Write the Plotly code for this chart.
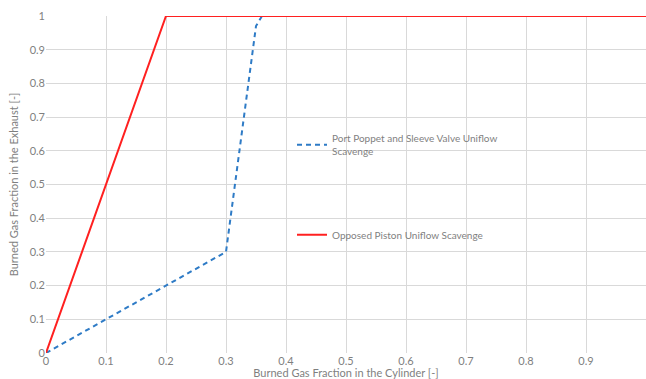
import plotly.graph_objects as go

# Data
port_x = [0, 0.1, 0.2, 0.3, 0.35, 0.36, 1.0]
port_y = [0, 0.1, 0.2, 0.3, 0.97, 1.0, 1.0]
opp_x = [0, 0.2, 1.0]
opp_y = [0, 1.0, 1.0]
port_name = "Port Poppet and Sleeve Valve Uniflow<br>Scavenge"
opp_name = "Opposed Piston Uniflow Scavenge"
x_ticks = [0, 0.1, 0.2, 0.3, 0.4, 0.5, 0.6, 0.7, 0.8, 0.9]
y_ticks = [0, 0.1, 0.2, 0.3, 0.4, 0.5, 0.6, 0.7, 0.8, 0.9, 1]

fig = go.Figure()
fig.add_trace(go.Scatter(x=port_x, y=port_y, mode="lines", name=port_name,
                         line=dict(color="#2e7bc6", width=2, dash="5px,4px"),
                         legendgroup="a"))
fig.add_trace(go.Scatter(x=opp_x, y=opp_y, mode="lines", name=opp_name,
                         line=dict(color="#ff2020", width=2),
                         legendgroup="b"))

gray = "#7f7f7f"
axis_common = dict(showgrid=True, gridcolor="#d9d9d9", gridwidth=1,
                   zeroline=False, showline=False, ticks="", automargin=False,
                   tickfont=dict(size=11, color=gray, family="Lato"))

fig.update_layout(
    width=646, height=379,
    margin=dict(l=46, r=0, t=16, b=26),
    paper_bgcolor="white", plot_bgcolor="white",
    font=dict(family="Lato", color=gray),
    xaxis=dict(range=[0, 1], tickvals=x_ticks,
               ticktext=[str(v) for v in x_ticks],
               title=dict(text="Burned Gas Fraction in the Cylinder [-]",
                          font=dict(size=11, color=gray), standoff=3),
               **axis_common),
    yaxis=dict(range=[0, 1], tickvals=y_ticks,
               ticktext=[str(v) for v in y_ticks],
               title=dict(text="Burned Gas Fraction in the Exhaust [-]",
                          font=dict(size=11, color=gray), standoff=8),
               **axis_common),
    legend=dict(x=0.41, y=0.676, xanchor="left", yanchor="top",
                bgcolor="rgba(0,0,0,0)", font=dict(size=10, color=gray),
                traceorder="grouped", tracegroupgap=66, itemwidth=30),
)

fig.write_html(
    "out.html",
    config={"displayModeBar": False},
    post_script="document.body.style.margin='0';document.body.style.overflow='hidden';",
)
